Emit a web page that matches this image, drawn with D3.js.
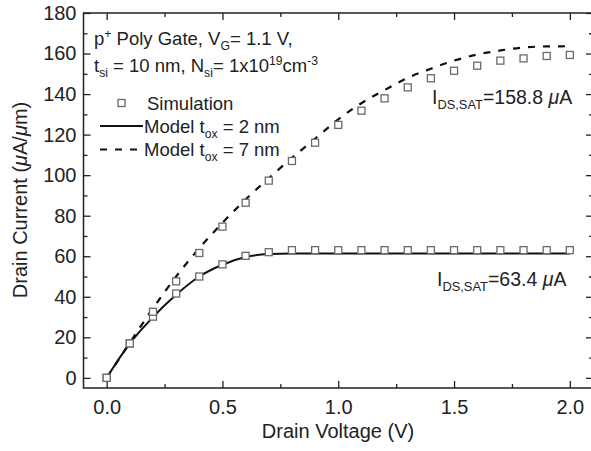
<!DOCTYPE html>
<html>
<head>
<meta charset="utf-8">
<script src="https://cdn.jsdelivr.net/npm/d3@7"></script>
<style>
  body { margin: 0; background: #fff; }
  svg { display: block; font-family: "Liberation Sans", Arial, sans-serif; }
  .tick text { font-size: 20px; fill: #222; }
  .tick line { stroke: #222; stroke-width: 1.3; }
</style>
</head>
<body>
<svg id="chart" width="591" height="451"></svg>
<script>
// drain voltage (V) for simulation points and model curves
var voltage = [0, 0.1, 0.2, 0.3, 0.4, 0.5, 0.6, 0.7, 0.8, 0.9, 1.0,
  1.1, 1.2, 1.3, 1.4, 1.5, 1.6, 1.7, 1.8, 1.9, 2.0];

// simulation (squares), uA/um
var simTox2 = [0, 17, 30.2, 41.6, 50, 56, 60.2, 62, 63, 63, 63,
  63, 63, 63, 63, 63, 63, 63, 63, 63, 63];
var simTox7 = [0, 17, 32.6, 47.6, 61.6, 74.6, 86.4, 97.3, 107, 116, 124.8,
  131.8, 137.9, 143.3, 147.8, 151.5, 154, 156.5, 157.6, 158.8, 159.3];

// model curves
var modelTox2 = [0, 17, 30, 41, 50, 55.8, 59.6, 61.1, 61.4, 61.4, 61.4,
  61.4, 61.4, 61.4, 61.4, 61.4, 61.4, 61.4, 61.4, 61.4, 61.4];
var modelTox7 = [0, 17.3, 34.3, 50, 64, 76.5, 88, 98.5, 108.5, 118, 127.5,
  135.5, 142, 148, 152.5, 156.5, 159.5, 161.5, 163, 163.5, 163.6];

var xMajor = [0, 0.5, 1.0, 1.5, 2.0];
var xMinor = [0.25, 0.75, 1.25, 1.75];
var yMajor = [0, 20, 40, 60, 80, 100, 120, 140, 160, 180];
var yMinor = [10, 30, 50, 70, 90, 110, 130, 150, 170];

var svg = d3.select("#chart"),
  plot = { left: 83.5, right: 593, top: 13, bottom: 388 };

var x = d3.scaleLinear().domain([-0.1, 2.1]).range([plot.left, plot.right]),
  y = d3.scaleLinear().domain([-5, 180]).range([plot.bottom, plot.top]);

function addAxis(axis, tx, ty) {
  var g = svg.append("g")
    .attr("transform", "translate(" + tx + "," + ty + ")")
    .call(axis);
  g.select(".domain").remove();
  return g;
}

// inward ticks on all four sides
addAxis(d3.axisBottom(x).tickValues(xMajor).tickSize(-7).tickPadding(12)
  .tickFormat(d3.format(".1f")), 0, plot.bottom);
addAxis(d3.axisBottom(x).tickValues(xMinor).tickSize(-4).tickFormat(""), 0, plot.bottom);
addAxis(d3.axisTop(x).tickValues(xMajor).tickSize(-7).tickFormat(""), 0, plot.top);
addAxis(d3.axisTop(x).tickValues(xMinor).tickSize(-4).tickFormat(""), 0, plot.top);
addAxis(d3.axisLeft(y).tickValues(yMajor).tickSize(-7).tickPadding(7), plot.left, 0);
addAxis(d3.axisLeft(y).tickValues(yMinor).tickSize(-4).tickFormat(""), plot.left, 0);
addAxis(d3.axisRight(y).tickValues(yMajor).tickSize(-7).tickFormat(""), plot.right, 0);
addAxis(d3.axisRight(y).tickValues(yMinor).tickSize(-4).tickFormat(""), plot.right, 0);

svg.append("rect")
  .attr("x", plot.left).attr("y", plot.top)
  .attr("width", plot.right - plot.left).attr("height", plot.bottom - plot.top)
  .attr("fill", "none").attr("stroke", "#222").attr("stroke-width", 1.5);

// model lines
var line = d3.line()
  .curve(d3.curveMonotoneX)
  .x(function(d) { return x(d[0]); })
  .y(function(d) { return y(d[1]); });

svg.append("path")
  .datum(d3.zip(voltage, modelTox2))
  .attr("d", line)
  .attr("fill", "none").attr("stroke", "#111").attr("stroke-width", 2);

svg.append("path")
  .datum(d3.zip(voltage, modelTox7))
  .attr("d", line)
  .attr("fill", "none").attr("stroke", "#111").attr("stroke-width", 2.2)
  .attr("stroke-dasharray", "7,8");

// simulation squares
var sq = 7;
[simTox2, simTox7].forEach(function(series) {
  svg.append("g").selectAll("rect")
    .data(d3.zip(voltage, series))
    .join("rect")
    .attr("x", function(d) { return x(d[0]) - sq / 2; })
    .attr("y", function(d) { return y(d[1]) - sq / 2; })
    .attr("width", sq).attr("height", sq)
    .attr("fill", "#fff").attr("stroke", "#6a6a6a").attr("stroke-width", 1.3);
});

// text with sub/superscripts: parts are [text, shift, italic]
function rich(tx, ty, parts, size, anchor) {
  var t = svg.append("text")
    .attr("x", tx).attr("y", ty)
    .attr("font-size", size)
    .attr("fill", "#222")
    .attr("text-anchor", anchor || "start");
  parts.forEach(function(p) {
    var s = t.append("tspan").text(p[0]);
    if (p[1] > 0) s.attr("font-size", size * 0.66).attr("baseline-shift", 7);
    if (p[1] < 0) s.attr("font-size", size * 0.66).attr("baseline-shift", -5);
    if (p[2]) s.attr("font-style", "italic");
  });
  return t;
}

var fs = 18.5;
rich(94, 45, [["p"], ["+", 1], [" Poly Gate, V"], ["G", -1], ["= 1.1 V,"]], fs);
rich(94, 72, [["t"], ["si", -1], [" = 10 nm, N"], ["si", -1], ["= 1x10"], ["19", 1],
  ["cm"], ["-3", 1]], fs);

// legend
svg.append("rect")
  .attr("x", 121.5 - sq / 2).attr("y", 103 - sq / 2)
  .attr("width", sq).attr("height", sq)
  .attr("fill", "#fff").attr("stroke", "#6a6a6a").attr("stroke-width", 1.3);
rich(147, 110, [["Simulation"]], fs);
svg.append("line").attr("x1", 100).attr("x2", 143).attr("y1", 126).attr("y2", 126)
  .attr("stroke", "#111").attr("stroke-width", 2);
rich(144, 132.5, [["Model t"], ["ox", -1], [" = 2 nm"]], fs);
svg.append("line").attr("x1", 100).attr("x2", 143).attr("y1", 149.5).attr("y2", 149.5)
  .attr("stroke", "#111").attr("stroke-width", 2.2).attr("stroke-dasharray", "7,8");
rich(144, 155.5, [["Model t"], ["ox", -1], [" = 7 nm"]], fs);

// saturation labels
rich(432, 104, [["I"], ["DS,SAT", -1], ["=158.8 "], ["\u03bc", 0, true], ["A"]], 19.5);
rich(437, 286, [["I"], ["DS,SAT", -1], ["=63.4 "], ["\u03bc", 0, true], ["A"]], 19.5);

// axis titles
rich(338, 438, [["Drain Voltage (V)"]], 20, "middle");
rich(0, 0, [["Drain Current ("], ["\u03bc", 0, true], ["A/"], ["\u03bc", 0, true], ["m)"]], 20, "middle")
  .attr("transform", "translate(27,200) rotate(-90)");
</script>
</body>
</html>
